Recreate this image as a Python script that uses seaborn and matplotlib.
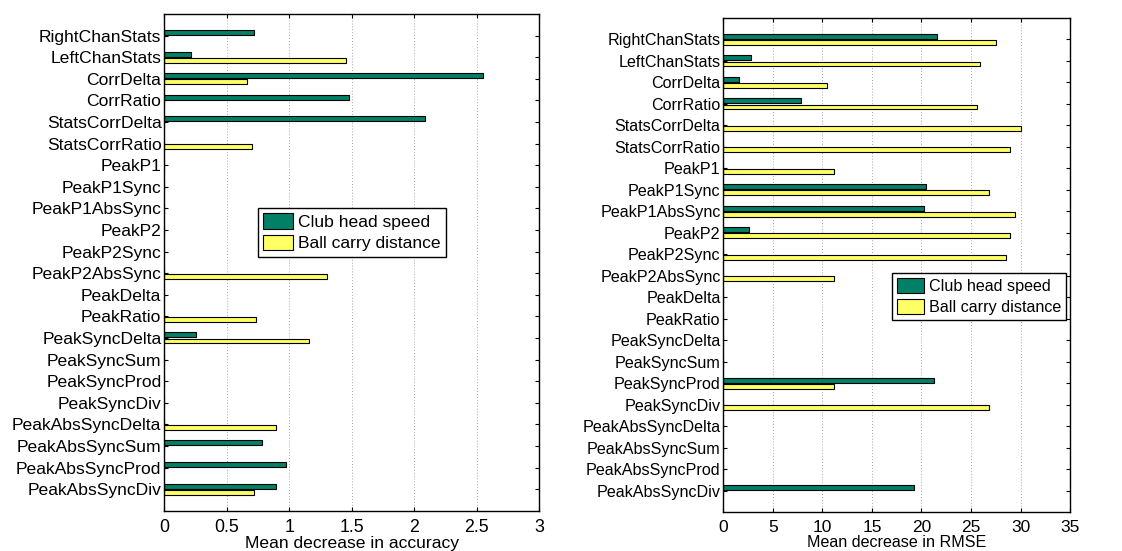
import numpy as np
import pandas as pd
import matplotlib
matplotlib.use("Agg")
import matplotlib.pyplot as plt
import seaborn as sns

features = [
    "RightChanStats", "LeftChanStats", "CorrDelta", "CorrRatio",
    "StatsCorrDelta", "StatsCorrRatio", "PeakP1", "PeakP1Sync",
    "PeakP1AbsSync", "PeakP2", "PeakP2Sync", "PeakP2AbsSync",
    "PeakDelta", "PeakRatio", "PeakSyncDelta", "PeakSyncSum",
    "PeakSyncProd", "PeakSyncDiv", "PeakAbsSyncDelta", "PeakAbsSyncSum",
    "PeakAbsSyncProd", "PeakAbsSyncDiv",
]
targets = ["Club head speed", "Ball carry distance"]

# Mean decrease in accuracy
acc_speed = [0.72, 0.21, 2.55, 1.475, 2.085, 0.0, 0.0, 0.0,
             0.0, 0.0, 0.0, 0.0, 0.0, 0.0, 0.25, 0.0,
             0.0, 0.0, 0.0, 0.785, 0.975, 0.895]
acc_carry = [0.0, 1.455, 0.665, 0.0, 0.0, 0.705, 0.0, 0.0,
             0.0, 0.0, 0.0, 1.30, 0.0, 0.735, 1.16, 0.0,
             0.0, 0.0, 0.89, 0.0, 0.0, 0.715]

# Mean decrease in RMSE
rmse_speed = [21.55, 2.75, 1.6, 7.85, 0.0, 0.0, 0.0, 20.5,
              20.25, 2.55, 0.0, 0.0, 0.0, 0.0, 0.0, 0.0,
              21.25, 0.0, 0.0, 0.0, 0.0, 19.2]
rmse_carry = [27.5, 25.9, 10.45, 25.65, 30.0, 28.9, 11.15, 26.85,
              29.45, 28.95, 28.55, 11.15, 0.0, 0.0, 0.0, 0.0,
              11.15, 26.8, 0.0, 0.0, 0.0, 0.0]

acc_ticks = [0, 0.5, 1, 1.5, 2, 2.5, 3]
acc_tick_labels = ["0", "0.5", "1", "1.5", "2", "2.5", "3"]
rmse_ticks = [0, 5, 10, 15, 20, 25, 30, 35]
rmse_tick_labels = ["0", "5", "10", "15", "20", "25", "30", "35"]

GREEN = "#008066"
YELLOW = "#ffff66"

plt.rcParams["font.family"] = ["Liberation Sans", "DejaVu Sans"]


def long_frame(speed, carry):
    return pd.DataFrame({
        "feature": features * 2,
        "value": list(speed) + list(carry),
        "target": [targets[0]] * len(features) + [targets[1]] * len(features),
    })


fig = plt.figure(figsize=(11.22, 5.51), dpi=100)
ax_l = fig.add_axes([0.1464, 0.0731, 0.3343, 0.9015])
ax_r = fig.add_axes([0.6447, 0.0708, 0.3090, 0.8965])

panels = [
    dict(ax=ax_l, df=long_frame(acc_speed, acc_carry), ticks=acc_ticks,
         tlabels=acc_tick_labels, xlim=(0, 3), xlabel="Mean decrease in accuracy",
         fs=12.6, xfs=12.8, leg_loc="upper left", leg_anchor=(0.25, 0.609),
         hl=1.67, hh=0.98, ls=0.25),
    dict(ax=ax_r, df=long_frame(rmse_speed, rmse_carry), ticks=rmse_ticks,
         tlabels=rmse_tick_labels, xlim=(0, 35), xlabel="Mean decrease in RMSE",
         fs=11.6, xfs=12.5, leg_loc="upper right", leg_anchor=(0.9876, 0.483),
         hl=1.68, hh=1.05, ls=0.3),
]

for p in panels:
    ax = p["ax"]
    fs = p["fs"]
    sns.barplot(data=p["df"], y="feature", x="value", hue="target",
                hue_order=targets, order=features, orient="h",
                palette=[GREEN, YELLOW], saturation=1, width=0.571, gap=0.2,
                edgecolor="black", linewidth=0.8, errorbar=None, ax=ax)
    ax.set_xlim(*p["xlim"])
    ax.set_ylim(len(features), -1)
    ax.set_xticks(p["ticks"])
    ax.set_xticklabels(p["tlabels"], fontsize=p["xfs"])
    ax.set_yticks(range(len(features)))
    ax.set_yticklabels(features, fontsize=fs)
    ax.set_ylabel("")
    ax.set_xlabel(p["xlabel"], fontsize=fs, labelpad=0)
    ax.xaxis.grid(True, linestyle=(0, (1, 2.5)), color="#888888", linewidth=0.6)
    ax.set_axisbelow(True)
    ax.tick_params(direction="in", length=3, width=0.8, top=True, right=True,
                   colors="black")
    ax.tick_params(axis="y", pad=2)
    ax.tick_params(axis="x", pad=6)
    for sp in ax.spines.values():
        sp.set_color("black")
        sp.set_linewidth(1.0)
    leg = ax.legend(loc=p["leg_loc"], bbox_to_anchor=p["leg_anchor"], fontsize=fs,
                    frameon=True, fancybox=False, edgecolor="black",
                    framealpha=1, handlelength=p["hl"], handleheight=p["hh"],
                    handletextpad=0.3, borderpad=0.3, labelspacing=p["ls"],
                    borderaxespad=0)
    leg.get_frame().set_linewidth(1.0)

fig.savefig("out.png", dpi=100)
